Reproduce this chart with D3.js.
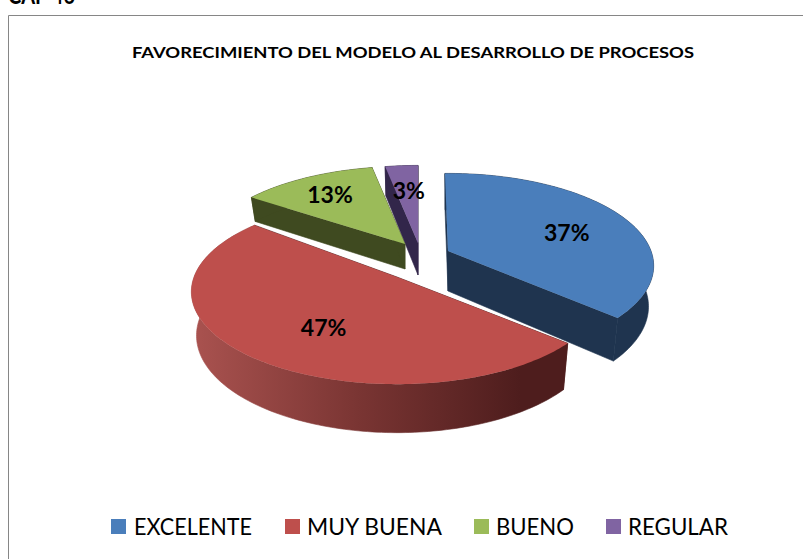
<!DOCTYPE html>
<html>
<head>
<meta charset="utf-8">
<script src="https://cdn.jsdelivr.net/npm/d3@7"></script>
<style>
  body { margin: 0; background: #fff; }
  svg { display: block; font-family: Lato, "Open Sans", sans-serif; }
</style>
</head>
<body>
<svg id="chart" width="803" height="559"></svg>
<script>
var categories = ["EXCELENTE", "MUY BUENA", "BUENO", "REGULAR"];
var percentValues = [37, 47, 13, 3];
var topColors = ["#4a7ebb", "#be4f4c", "#9bbb59", "#8064a2"];
var sideColors = ["#1f344f", "#4e1d1d", "#3f4a20", "#32264a"];

// each slice is pulled away from the pie by hand, so every one has its own tip
var tipX = [448, 397, 405, 418];
var tipY = [251, 277, 244, 243];
var sliceDepth = [40, 43, 25, 32];
var labelRadius = [0.67, 0.57, 0.72, 0.65];
var labelShiftX = [-1, 3, 0, 2];
var labelShiftY = [5, 7, 0, 1];
var drawOrder = [3, 2, 0, 1];

// the picture's cuts sit a little off the true angles, in degrees
var startNudge = [-1, -2, 2, 0];
var endNudge = [-1.5, 7, 0, 0];

// legend positions
var legendBoxX = [111, 285, 474, 606];
var legendTextX = [134, 307, 496, 628];
var legendTextWidth = [118, 135, 78, 100];

var radiusX = 203, radiusY = 90, perspective = 0.16, bottomScale = 0.975;

var svg = d3.select("#chart");

// piece of the caption above the chart, cut by the top of the page
svg.append("text")
  .attr("x", 8).attr("y", 4)
  .attr("font-size", 24).attr("font-weight", 700).attr("fill", "#000")
  .attr("textLength", 67).attr("lengthAdjust", "spacingAndGlyphs")
  .text("CAP 46");

// chart frame, the right and bottom sides are outside the picture
svg.append("path")
  .attr("d", "M8.5,559V15.5H803")
  .attr("fill", "none").attr("stroke", "#868686");

svg.append("text")
  .attr("x", 413).attr("y", 58)
  .attr("text-anchor", "middle")
  .attr("font-size", 15.5).attr("font-weight", 700).attr("fill", "#000")
  .attr("textLength", 562).attr("lengthAdjust", "spacingAndGlyphs")
  .text("FAVORECIMIENTO DEL MODELO AL DESARROLLO DE PROCESOS");

var pie = d3.pie().sort(null)(percentValues);
var toRad = Math.PI / 180;

// angle is clockwise from the back of the pie, front of the pie gets bigger
function rimPoint(i, angle, r, low) {
  var u = Math.sin(angle) * r, v = -Math.cos(angle) * r;
  var k = 1 / (1 - perspective * v);
  var s = low ? bottomScale : 1;
  var y = tipY[i] + radiusY * v * k * s;
  if (low) y += sliceDepth[i] * k;
  return [tipX[i] + radiusX * u * k * s, y];
}

function arcPoints(i, a0, a1, low) {
  var n = Math.ceil(Math.abs(a1 - a0) / 0.02);
  return d3.range(n + 1).map(function (j) {
    return rimPoint(i, a0 + (a1 - a0) * j / n, 1, low);
  });
}

var line = d3.line();

var defs = svg.append("defs");
var redSide = defs.append("linearGradient")
  .attr("id", "redSide")
  .attr("gradientUnits", "userSpaceOnUse")
  .attr("x1", 195).attr("x2", 520).attr("y1", 0).attr("y2", 0);
redSide.append("stop").attr("offset", 0).attr("stop-color", "#a9524f");
redSide.append("stop").attr("offset", 0.5).attr("stop-color", "#7a3533");
redSide.append("stop").attr("offset", 1).attr("stop-color", "#4e1d1d");

var sliceGroups = svg.selectAll("g.slice")
  .data(drawOrder)
  .enter()
  .append("g")
  .attr("class", "slice");

sliceGroups.each(function (i) {
  var g = d3.select(this);
  var a0 = pie[i].startAngle + startNudge[i] * toRad;
  var a1 = pie[i].endAngle + endNudge[i] * toRad;
  var sideFill = i === 1 ? "url(#redSide)" : sideColors[i];

  // both flat cuts, the one facing away ends up under the top face
  [a0, a1].forEach(function (a) {
    g.append("path")
      .attr("d", line([rimPoint(i, a, 0, false), rimPoint(i, a, 1, false), rimPoint(i, a, 1, true), rimPoint(i, a, 0, true)]) + "Z")
      .attr("fill", sideColors[i])
      .attr("stroke", sideColors[i]).attr("stroke-width", 0.6);
  });

  // outer wall, thin stroke hides the seam against the cut
  g.append("path")
    .attr("d", line(arcPoints(i, a0, a1, false).concat(arcPoints(i, a1, a0, true))) + "Z")
    .attr("fill", sideFill)
    .attr("stroke", sideFill).attr("stroke-width", 0.6);

  // top face
  g.append("path")
    .attr("d", line([rimPoint(i, 0, 0, false)].concat(arcPoints(i, a0, a1, false))) + "Z")
    .attr("fill", topColors[i]);
});

// labels go last so the slices never cover them
percentValues.forEach(function (value, i) {
  var d = pie[i];
  var p = rimPoint(i, (d.startAngle + d.endAngle) / 2, labelRadius[i], false);
  svg.append("text")
    .attr("x", p[0] + labelShiftX[i]).attr("y", p[1] + 8 + labelShiftY[i])
    .attr("text-anchor", "middle")
    .attr("font-size", 23).attr("font-weight", 700).attr("fill", "#000")
    .text(value + "%");
});

categories.forEach(function (name, i) {
  svg.append("rect")
    .attr("x", legendBoxX[i]).attr("y", 519)
    .attr("width", 15).attr("height", 15)
    .attr("fill", topColors[i]);
  svg.append("text")
    .attr("x", legendTextX[i]).attr("y", 535)
    .attr("font-size", 24).attr("fill", "#000")
    .attr("textLength", legendTextWidth[i]).attr("lengthAdjust", "spacingAndGlyphs")
    .text(name);
});
</script>
</body>
</html>
